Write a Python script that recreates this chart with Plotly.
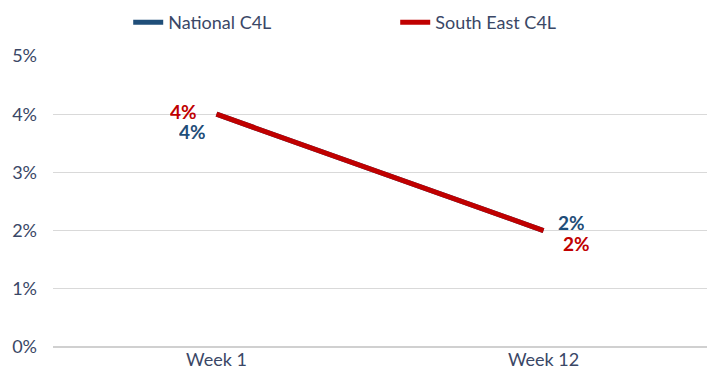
import plotly.graph_objects as go

weeks = ["Week 1", "Week 12"]
national = [4, 2]
south_east = [4, 2]
y_ticks = [0, 1, 2, 3, 4, 5]

blue = "#1f4e79"
red = "#c00000"
text_col = "#3a4766"
font = "Lato, 'Open Sans', sans-serif"

fig = go.Figure()
fig.add_trace(go.Scatter(x=weeks, y=national, mode="lines", name="National C4L",
                         line=dict(color=blue, width=5)))
fig.add_trace(go.Scatter(x=weeks, y=south_east, mode="lines", name="South East C4L",
                         line=dict(color=red, width=5)))

# value labels: offsets keep the overlapping series readable
offsets = {
    ("nat", 0): (-24, -17), ("se", 0): (-33, 3),
    ("nat", 1): (28, 9), ("se", 1): (33, -12),
}
for key, vals, col in (("nat", national, blue), ("se", south_east, red)):
    for i, (w, v) in enumerate(zip(weeks, vals)):
        dx, dy = offsets[(key, i)]
        fig.add_annotation(x=w, y=v, text=f"<b>{v}%</b>", showarrow=False,
                           xshift=dx, yshift=dy, height=16, borderpad=0,
                           font=dict(family=font, size=19, color=col))

fig.update_layout(
    width=707, height=382,
    margin=dict(l=53, r=0, t=56, b=35, autoexpand=False),
    paper_bgcolor="white", plot_bgcolor="white",
    font=dict(family=font, color=text_col, size=18),
    legend=dict(orientation="h", x=0.115, y=1.115, xanchor="left", yanchor="middle",
                font=dict(size=18, color=text_col), entrywidth=222,
                entrywidthmode="pixels", traceorder="normal"),
    showlegend=True,
)
fig.update_xaxes(type="category", range=[-0.5, 1.5], showgrid=False,
                 showline=False, ticks="", tickfont=dict(size=18, color=text_col))
fig.update_yaxes(range=[0, 5], tickvals=y_ticks,
                 ticktext=[f"{t}%" for t in y_ticks], showgrid=True,
                 gridcolor="#d9d9d9", gridwidth=1, zeroline=True,
                 zerolinecolor="#d0d0d0", zerolinewidth=2,
                 ticks="", ticklabelstandoff=15,
                 tickfont=dict(size=18, color=text_col))

fig.write_html("out.html")
